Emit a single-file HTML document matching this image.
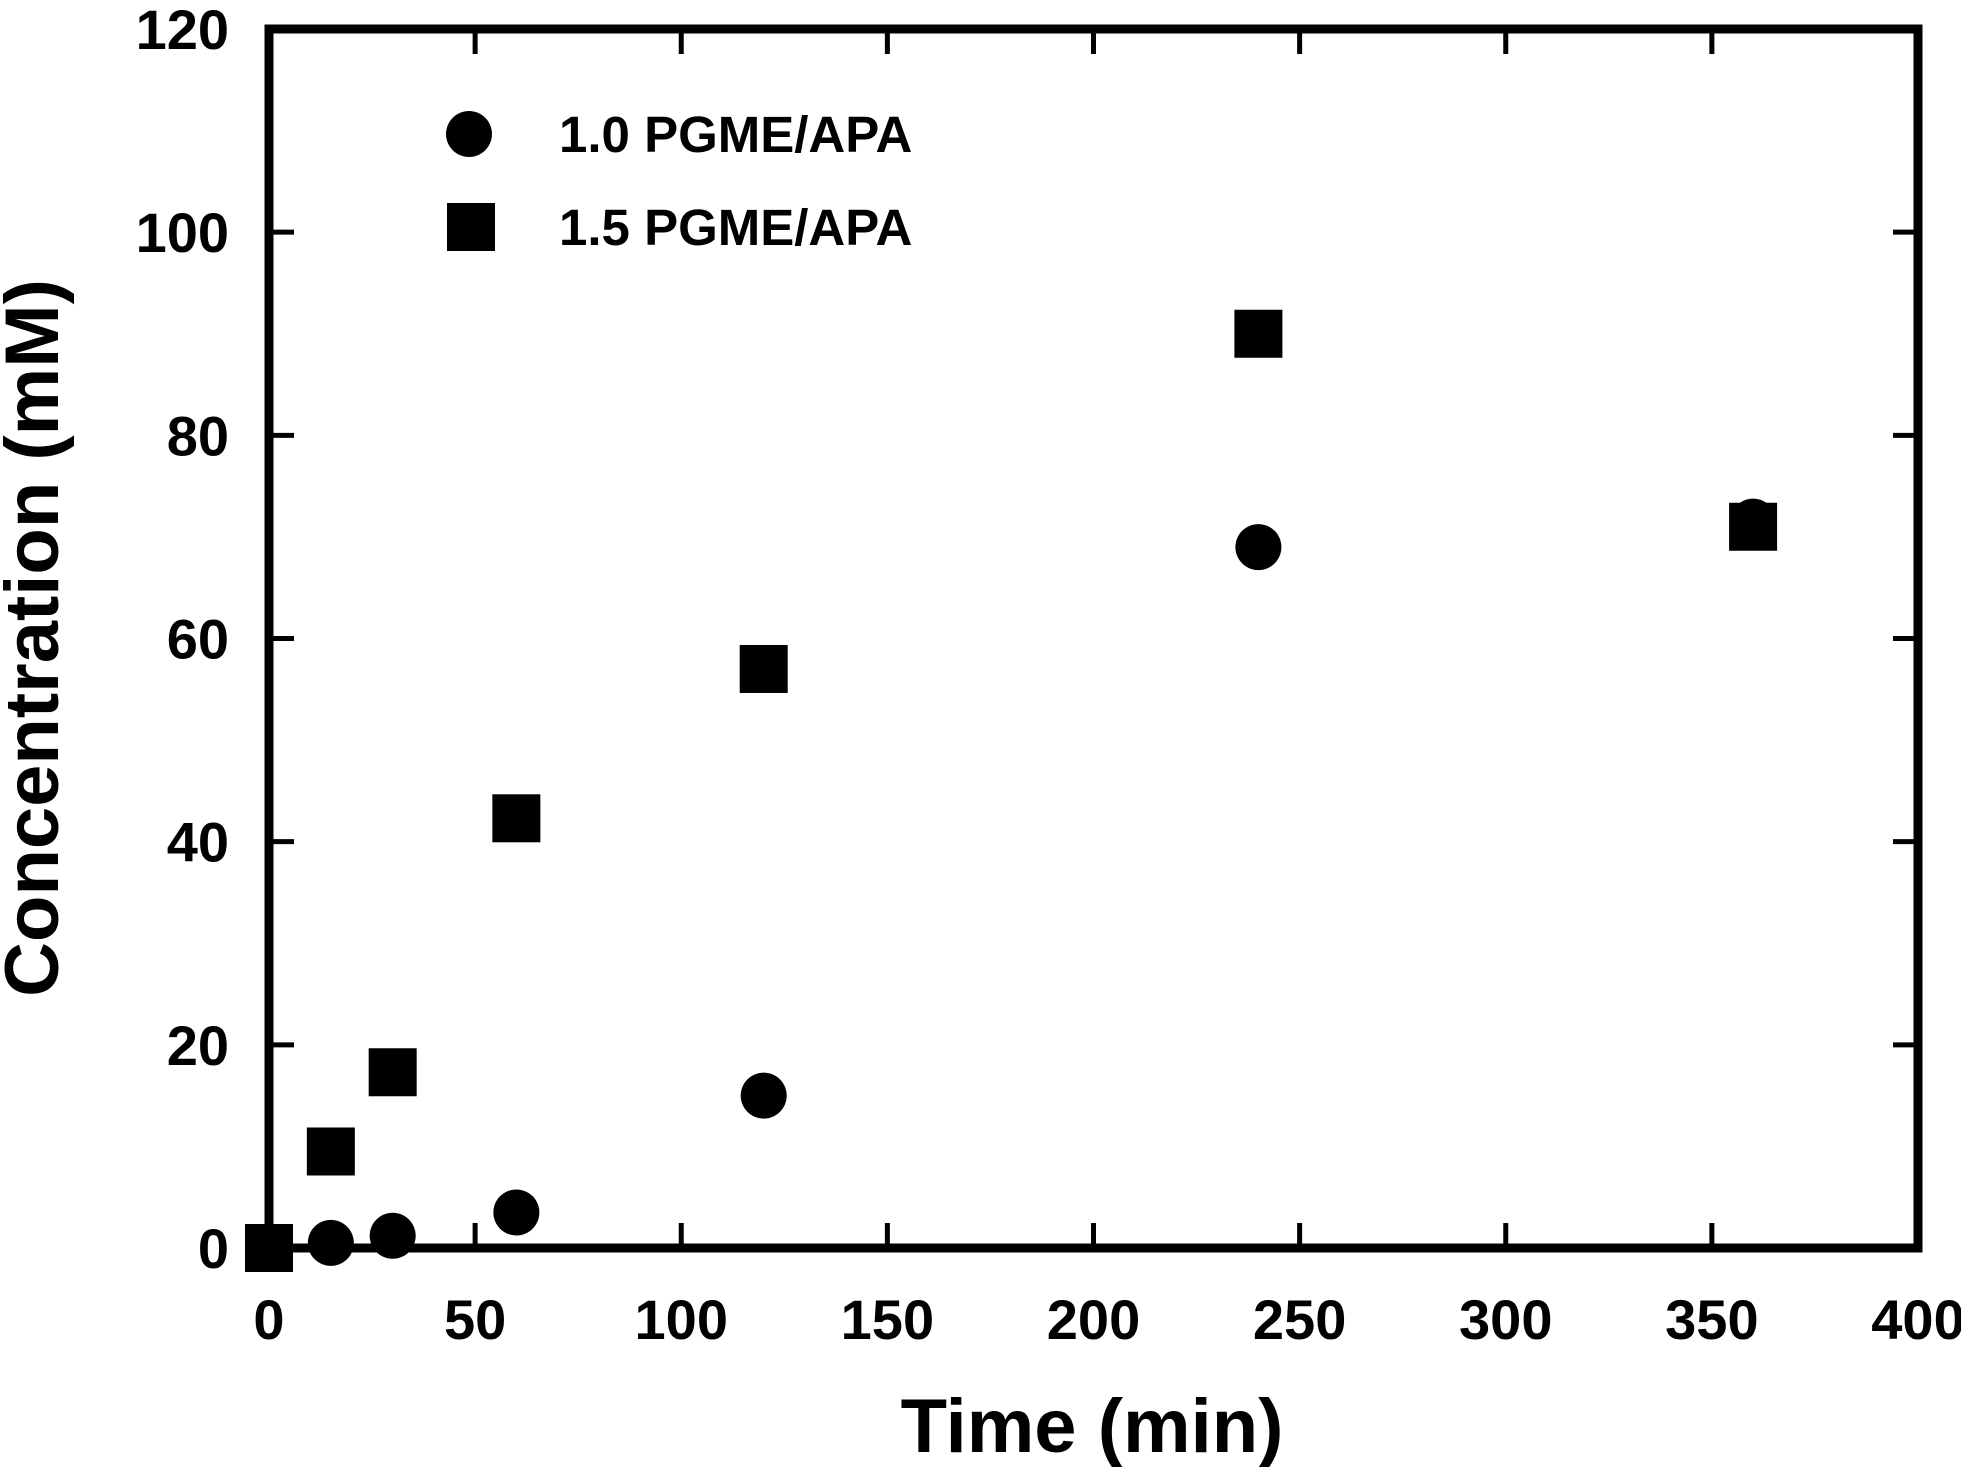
<!DOCTYPE html>
<html><head><meta charset="utf-8"><style>body{margin:0;background:#fff}svg{display:block}text{font-family:"Liberation Sans",Arial,sans-serif;font-weight:bold;fill:#000}</style></head>
<body>
<svg id="chart" width="1961" height="1467" viewBox="0 0 1961 1467" xmlns="http://www.w3.org/2000/svg">
<g id="ticks"></g>
<g id="marks"></g>
<rect x="269" y="29" width="1649" height="1219" fill="none" stroke="#000" stroke-width="9"/>
<text x="1092" y="1452" font-size="76" text-anchor="middle">Time (min)</text>
<text transform="translate(58,638) rotate(-90)" font-size="76" text-anchor="middle">Concentration (mM)</text>
<circle cx="469" cy="134" r="23"/>
<text x="559" y="152" font-size="51">1.0 PGME/APA</text>
<rect x="447" y="203" width="48" height="48"/>
<text x="559" y="245" font-size="51">1.5 PGME/APA</text>
</svg>
<script>
const xTicks=[0,50,100,150,200,250,300,350,400];
const yTicks=[0,20,40,60,80,100,120];
const circleTimes=[15,30,60,120,240,360];
const circleValues=[0.5,1.2,3.5,15,69,71.5];
const squareTimes=[0,15,30,60,120,240,360];
const squareValues=[0,9.5,17.3,42.3,57,90,71];
const L=269,R=1918,T=29,B=1248;
const xs=v=>L+(v/400)*(R-L);
const ys=v=>B-(v/120)*(B-T);
const NS="http://www.w3.org/2000/svg";
const tg=document.getElementById('ticks'),mg=document.getElementById('marks');
function mk(tag,attrs,parent){const e=document.createElementNS(NS,tag);for(const k in attrs)e.setAttribute(k,attrs[k]);parent.appendChild(e);return e;}
xTicks.forEach(t=>{const x=xs(t);
 const a=mk('line',{x1:x,x2:x,y1:B,y2:B-25,stroke:'#000','stroke-width':5},tg);
 
 
 const b=mk('line',{x1:x,x2:x,y1:T,y2:T+25,stroke:'#000','stroke-width':5},tg);
 
 
 const l=mk('text',{x:x,y:1339,'font-size':56,'text-anchor':'middle'},tg);l.textContent=t;
 
 
});
yTicks.forEach(t=>{const y=ys(t);
 const a=mk('line',{x1:L,x2:L+25,y1:y,y2:y,stroke:'#000','stroke-width':5},tg);
 
 
 const b=mk('line',{x1:R,x2:R-25,y1:y,y2:y,stroke:'#000','stroke-width':5},tg);
 
 
 const l=mk('text',{x:229,y:y+20,'font-size':56,'text-anchor':'end'},tg);l.textContent=t;
 
 
});
circleTimes.forEach((t,i)=>{
 const c=mk('circle',{cx:xs(t),cy:ys(circleValues[i]),r:23},mg);
 
 
});
squareTimes.forEach((t,i)=>{
 const s=mk('rect',{x:xs(t)-24,y:ys(squareValues[i])-24,width:48,height:48},mg);
 
 
});
</script>
</body></html>
